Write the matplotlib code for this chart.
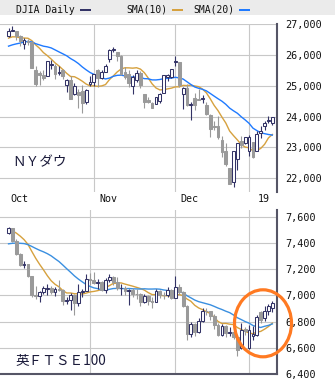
import matplotlib
matplotlib.use("Agg")
import matplotlib.pyplot as plt
from matplotlib.patches import Rectangle, Ellipse
from matplotlib.transforms import blended_transform_factory

# NY Dow daily bars, 2 Oct 2018 - 10 Jan 2019
dow_o = [26632, 26800, 26799, 26627, 26376, 26463, 26424, 25526, 25405, 25350,
         25335, 25690, 25646, 25421, 25504, 25030, 25200, 24721, 24796, 24818,
         24467, 25051, 25115, 25510, 25256, 25443, 25874, 26185, 26105, 25986,
         25453, 25386, 24997, 25200, 25428, 24741, 24543, 24442, 24419, 24505,
         24775, 25297, 25297, 25779, 25782, 24737, 24919, 24366, 24595, 24559,
         24560, 24368, 24061, 23703, 23685, 23224, 22871, 22317, 21857, 22629,
         23213, 23154, 22877, 23176, 22894, 23474, 23680, 23865, 23789]
dow_h = [26880, 26952, 26799, 26668, 26559, 26536, 26424, 25655, 25480, 25511,
         25803, 25838, 25708, 25653, 25547, 25232, 25330, 25109, 24894, 25040,
         24906, 25317, 25395, 25540, 25504, 25712, 26208, 26277, 26105, 26018,
         25608, 25519, 25340, 25513, 25475, 24741, 24643, 24462, 24640, 24773,
         25366, 25392, 25541, 25981, 25782, 24954, 25068, 24478, 24779, 24888,
         24696, 24475, 24101, 23864, 24017, 23382, 23138, 22339, 22878, 23138,
         23381, 23333, 23413, 23176, 23518, 23687, 23864, 24004, 24001]
dow_l = [26602, 26778, 26482, 26314, 26200, 26316, 25581, 24999, 25021, 25189,
         25335, 25553, 25216, 25355, 25234, 24798, 24583, 24700, 24268, 24122,
         24417, 25010, 24994, 24980, 25227, 25443, 25788, 26097, 25806, 25339,
         25228, 24969, 24752, 25136, 24925, 24269, 24445, 24269, 24419, 24442,
         24775, 25176, 25265, 25658, 24980, 24242, 24338, 23881, 24230, 24525,
         24434, 24055, 23350, 23562, 23286, 22684, 22397, 21792, 21712, 22267,
         22981, 23118, 22732, 22638, 22894, 23301, 23575, 23796, 23712]
dow_c = [26774, 26828, 26628, 26447, 26487, 26431, 25599, 25053, 25340, 25251,
         25798, 25706, 25380, 25444, 25317, 25191, 24583, 24985, 24689, 24443,
         24875, 25116, 25381, 25271, 25462, 25635, 26181, 26191, 25989, 25388,
         25287, 25081, 25290, 25414, 25018, 24466, 24465, 24286, 24640, 24749,
         25366, 25339, 25538, 25826, 25027, 24947, 24389, 24423, 24370, 24527,
         24597, 24101, 23593, 23676, 23324, 22859, 22445, 21792, 22878, 23138,
         23062, 23327, 23346, 22686, 23433, 23531, 23787, 23879, 24001]
dow_sma10 = [26557, 26599, 26596, 26566, 26559, 26553, 26474, 26336, 26224, 26084,
             25986, 25874, 25749, 25649, 25532, 25408, 25306, 25299, 25234, 25154,
             25061, 25002, 25002, 24985, 25000, 25044, 25204, 25324, 25454, 25549,
             25590, 25587, 25578, 25592, 25547, 25431, 25259, 25068, 24933, 24870,
             24878, 24903, 24928, 24969, 24970, 25018, 25011, 25024, 24997, 24975,
             24898, 24774, 24580, 24365, 24195, 23986, 23792, 23528, 23379, 23240,
             23087, 23009, 22985, 22886, 22897, 22964, 23098, 23307, 23419]
dow_sma20 = [26295, 26337, 26369, 26395, 26427, 26450, 26430, 26375, 26335, 26294,
             26272, 26237, 26173, 26108, 26045, 25980, 25890, 25818, 25729, 25619,
             25524, 25438, 25376, 25317, 25266, 25226, 25255, 25312, 25344, 25351,
             25326, 25294, 25290, 25288, 25274, 25237, 25231, 25196, 25194, 25209,
             25234, 25245, 25253, 25281, 25259, 25224, 25135, 25046, 24965, 24922,
             24888, 24839, 24754, 24667, 24582, 24502, 24401, 24276, 24188, 24108,
             23993, 23892, 23782, 23625, 23546, 23475, 23445, 23418, 23399]

# FTSE 100 daily bars, 3 Oct 2018 - 10 Jan 2019
ftse_o = [7474, 7510, 7418, 7318, 7233, 7237, 7146, 7006, 6996, 7029,
          7052, 7055, 7027, 7050, 7042, 6955, 6963, 7004, 6940, 7027,
          7036, 7128, 7114, 7094, 7104, 7040, 7117, 7141, 7105, 7053,
          7054, 7033, 7038, 7014, 7013, 6948, 6996, 6960, 6953, 7036,
          7005, 7004, 7038, 6980, 7062, 7022, 6921, 6704, 6778, 6721,
          6806, 6881, 6877, 6845, 6773, 6701, 6765, 6711, 6721, 6686,
          6600, 6745, 6600, 6690, 6700, 6870, 6830, 6880, 6905]
ftse_h = [7522, 7512, 7428, 7322, 7262, 7242, 7148, 7072, 7035, 7068,
          7085, 7068, 7065, 7115, 7045, 6985, 7015, 7010, 7090, 7050,
          7165, 7170, 7180, 7125, 7110, 7135, 7160, 7150, 7140, 7085,
          7070, 7050, 7055, 7045, 7015, 7010, 7000, 6990, 7045, 7040,
          7025, 7060, 7045, 7150, 7090, 7030, 6925, 6800, 6790, 6830,
          6900, 6900, 6880, 6855, 6790, 6780, 6770, 6760, 6730, 6700,
          6790, 6760, 6770, 6765, 6850, 6880, 6920, 6935, 6960]
ftse_l = [7468, 7405, 7305, 7222, 7208, 7138, 6990, 6975, 6950, 7010,
          7005, 7010, 6998, 7030, 6925, 6935, 6890, 6850, 6920, 6985,
          7030, 7080, 7085, 7050, 7030, 7020, 7100, 7080, 7040, 7000,
          7000, 6930, 6990, 6970, 6920, 6940, 6930, 6900, 6950, 6980,
          6975, 6985, 6970, 6980, 7010, 6910, 6660, 6680, 6690, 6715,
          6800, 6850, 6815, 6740, 6690, 6690, 6680, 6690, 6670, 6540,
          6590, 6700, 6590, 6660, 6690, 6790, 6805, 6850, 6870]
ftse_c = [7510, 7418, 7318, 7233, 7237, 7146, 7006, 6996, 7029, 7059,
          7055, 7027, 7050, 7042, 6955, 6963, 7004, 6940, 7027, 7036,
          7128, 7114, 7094, 7104, 7040, 7117, 7141, 7105, 7053, 7054,
          7033, 7038, 7014, 7013, 6948, 6996, 6960, 6953, 7036, 7005,
          7004, 7038, 6980, 7062, 7022, 6921, 6704, 6778, 6721, 6806,
          6881, 6877, 6845, 6773, 6701, 6765, 6711, 6721, 6686, 6584,
          6733, 6728, 6734, 6705, 6837, 6815, 6880, 6915, 6945]
ftse_sma10 = [7487, 7492, 7475, 7452, 7425, 7389, 7335, 7283, 7237, 7195,
              7150, 7111, 7084, 7065, 7036, 7018, 7018, 7012, 7012, 7010,
              7017, 7026, 7030, 7036, 7045, 7060, 7074, 7091, 7093, 7095,
              7086, 7078, 7070, 7061, 7052, 7040, 7021, 7006, 7005, 7000,
              6997, 6997, 6993, 6998, 7006, 6998, 6972, 6955, 6924, 6904,
              6891, 6875, 6862, 6833, 6801, 6785, 6786, 6780, 6777, 6754,
              6740, 6725, 6714, 6707, 6720, 6725, 6742, 6762, 6788]
ftse_sma20 = [7393, 7397, 7399, 7397, 7395, 7387, 7373, 7358, 7344, 7332,
              7318, 7301, 7279, 7258, 7231, 7203, 7176, 7148, 7124, 7103,
              7083, 7068, 7057, 7051, 7041, 7039, 7046, 7052, 7053, 7052,
              7051, 7052, 7050, 7049, 7048, 7050, 7048, 7048, 7049, 7047,
              7041, 7037, 7032, 7030, 7029, 7019, 6997, 6981, 6964, 6952,
              6944, 6936, 6928, 6916, 6903, 6892, 6879, 6868, 6850, 6829,
              6815, 6800, 6788, 6770, 6761, 6755, 6764, 6771, 6782]

# month starts (bar index) and labels
month_idx_top = [-1, 22, 43, 62]
month_idx_bot = [21, 43, 62]
month_labels = ['Oct', 'Nov', 'Dec', '19']
dow_ticks = [22000, 23000, 24000, 25000, 26000, 27000]
ftse_ticks = [6400, 6600, 6800, 7000, 7200, 7400, 7600]

NAVY = '#333366'
GRAY = '#9a9a9a'
ORANGE = '#d6a13e'
BLUE = '#1f7aff'
BLUE2 = '#3a8fe0'
GRID = '#c8c8c8'
MONO = 'DejaVu Sans Mono'

W, H = 335, 388
fig = plt.figure(figsize=(W / 100, H / 100), dpi=100)


def px_axes(x0, y0, x1, y1):
    return fig.add_axes([x0 / W, 1 - y1 / H, (x1 - x0) / W, (y1 - y0) / H])


def candles(ax, o, h, l, c):
    for i in range(len(o)):
        up = c[i] >= o[i]
        col = NAVY if up else GRAY
        ax.vlines(i, l[i], h[i], color=col, lw=0.8, zorder=3)
        lo, hi = min(o[i], c[i]), max(o[i], c[i])
        ax.add_patch(Rectangle((i - 0.36, lo), 0.72, hi - lo,
                               facecolor='white' if up else GRAY,
                               edgecolor=col, lw=0.75, zorder=4))


def style(ax, ticks, grid_idx):
    ax.set_xlim(-2.2, 69.2)
    for s in ax.spines.values():
        s.set_visible(False)
    ax.spines['right'].set_visible(True)
    ax.spines['right'].set_color('#555566')
    ax.spines['right'].set_linewidth(1.5)
    ax.set_xticks([])
    ax.set_yticks(ticks)
    ax.set_yticklabels([f'{t:,}' for t in ticks], family=MONO, fontsize=7.3)
    ax.yaxis.tick_right()
    ax.tick_params(axis='y', length=0, pad=5.8, colors='#111111')
    ax.grid(axis='y', color=GRID, lw=0.8, zorder=0)
    for g in grid_idx:
        ax.axvline(g, color=GRID, lw=0.8, zorder=0)


# top panel: Dow
ax1 = px_axes(0, 24, 277, 192)
ax1.set_ylim(21545, 27016)
ax1.plot(range(len(dow_c)), dow_sma10, color=ORANGE, lw=1.0, zorder=2)
ax1.plot(range(len(dow_c)), dow_sma20, color=BLUE, lw=1.0, zorder=2)
candles(ax1, dow_o, dow_h, dow_l, dow_c)
style(ax1, dow_ticks, month_idx_top[1:])

# bottom panel: FTSE
ax2 = px_axes(0, 210, 277, 374)
ax2.set_ylim(6400, 7651)
ax2.plot(range(len(ftse_c)), ftse_sma10, color=ORANGE, lw=1.0, zorder=2)
ax2.plot(range(len(ftse_c)), ftse_sma20, color=BLUE2, lw=1.0, zorder=2)
candles(ax2, ftse_o, ftse_h, ftse_l, ftse_c)
style(ax2, ftse_ticks, month_idx_bot)
ax2.spines['bottom'].set_visible(True)
ax2.spines['bottom'].set_color('#555566')
ax2.spines['bottom'].set_linewidth(1.5)

# month labels between panels
tr = blended_transform_factory(ax1.transData, fig.transFigure)
for g, lab in zip(month_idx_top, month_labels):
    off = 2.3 if lab == '19' else 1.4
    ax1.text(g + off, 1 - 199 / H, lab, transform=tr, ha='left', va='center',
             family=MONO, fontsize=7.2, color='#111111', clip_on=False)

# header band with legend
fig.add_artist(Rectangle((0, 1 - 15 / H), 1, 15 / H, transform=fig.transFigure,
                         facecolor='#ebebeb', edgecolor='none', zorder=0))
for x, txt in [(16, 'DJIA Daily'), (126, 'SMA(10)'), (193, 'SMA(20)')]:
    fig.text(x / W, 1 - 10 / H, txt, family=MONO, fontsize=7, va='center', color='#111111')
for x, col in [(80, NAVY), (172, ORANGE), (239, BLUE)]:
    fig.add_artist(Rectangle((x / W, 1 - 11 / H), 11 / W, 2.5 / H, transform=fig.transFigure,
                             facecolor=col, edgecolor='none'))

# panel titles
fig.text(12 / W, 1 - 162.5 / H, 'ＮＹダウ', family=['Noto Sans CJK JP', 'DejaVu Sans'],
         fontsize=9.8, va='center', color='#1a1a3a')
fig.text(15 / W, 1 - 360 / H, '英ＦＴＳＥ100', family=['Noto Sans CJK JP', 'DejaVu Sans'],
         fontsize=9.8, va='center', color='#1a1a3a')

# orange circle around the recent FTSE rebound
fig.add_artist(Ellipse((263 / W, 1 - 323.3 / H), 57 / W, 67 / H, transform=fig.transFigure,
                       facecolor='none', edgecolor='#ff7a22', lw=2.3, zorder=5))

fig.savefig('out.png', dpi=100)
